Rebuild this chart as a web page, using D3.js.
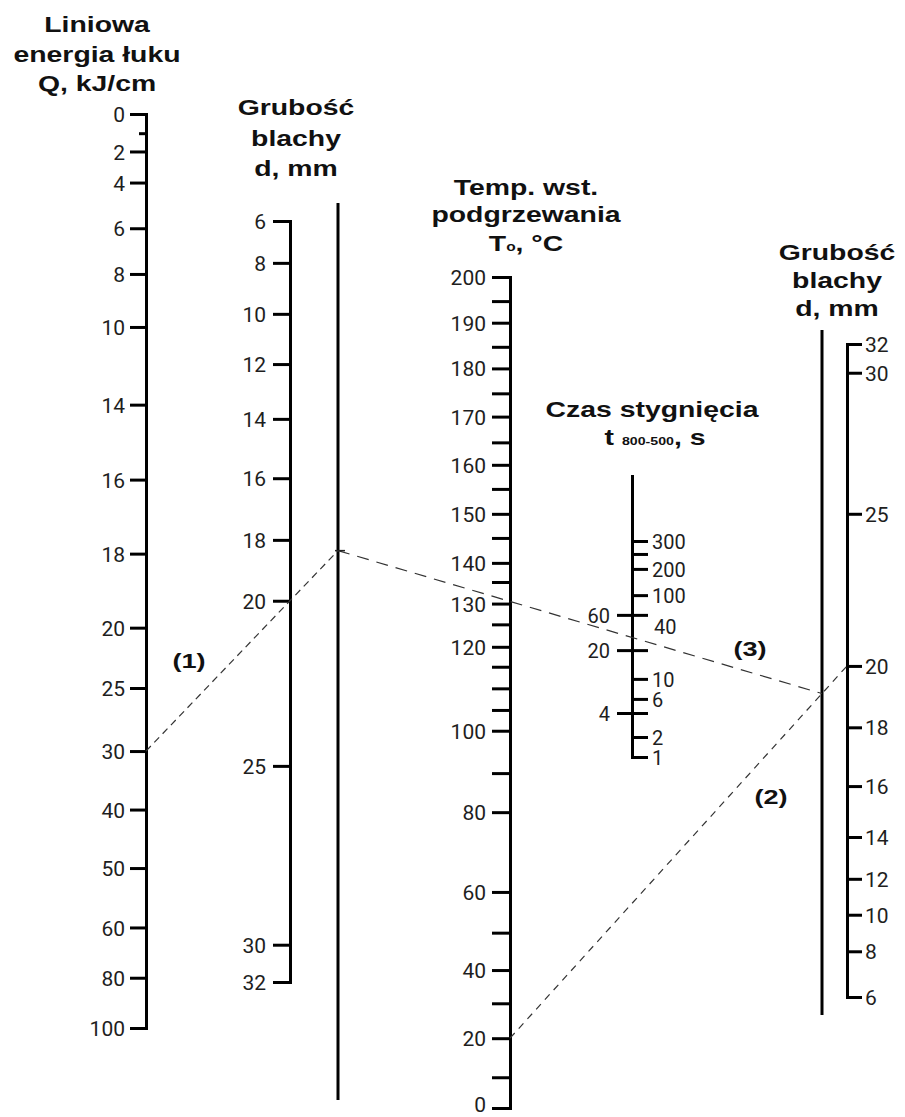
<!DOCTYPE html>
<html>
<head>
<meta charset="utf-8">
<script src="https://cdn.jsdelivr.net/npm/d3@7"></script>
<style>
  body { margin: 0; background: #fff; }
</style>
</head>
<body>
<svg id="chart" width="905" height="1117"></svg>
<script>
// scale calibration: tick values and their relative place along each axis (0 = top end, 1 = bottom end)
const qTicks = [0, 1, 2, 4, 6, 8, 10, 14, 16, 18, 20, 25, 30, 40, 50, 60, 80, 100]
const qStops = [0, .021, .041, .075, .125, .175, .233, .318, .400, .481, .562, .628, .697, .761, .825, .890, .945, 1]
const qMinor = [1]

const dTicks = [6, 8, 10, 12, 14, 16, 18, 20, 25, 30, 32]
const dLeftStops = [0, .055, .122, .188, .260, .338, .419, .499, .716, .951, 1]
const dRightStops = [1, .930, .874, .819, .755, .677, .587, .493, .260, .044, 0]

const tempTicks = [200, 195, 190, 185, 180, 175, 170, 165, 160, 155, 150, 145, 140, 135, 130, 125, 120, 115, 110, 105, 100, 90, 80, 60, 50, 40, 30, 20, 10, 0]
const tempStops = [0, .029, .055, .084, .110, .140, .168, .199, .226, .255, .285, .314, .344, .367, .393, .418, .445, .469, .495, .521, .546, .597, .644, .740, .789, .834, .874, .916, .963, 1]
const tempLabels = [200, 190, 180, 170, 160, 150, 140, 130, 120, 100, 80, 60, 40, 20, 0]

const timeRightValues = [300, 250, 200, 100, 40, 10, 6, 2, 1]
const timeRightStops = [.234, .280, .333, .426, .539, .723, .794, .929, 1]
const timeRightTicks = [300, 250, 200, 100, 10, 6, 2, 1]
const timeRightLabels = [300, 200, 100, 40, 10, 6, 2, 1]
const timeLeftTicks = [60, 20, 4]
const timeLeftStops = [.496, .621, .844]

// worked example drawn with dashed lines
const exampleQ = 30, exampleD1 = 20, exampleT = 20, exampleD2 = 20

// layout
const qX = 146, qTop = 114, qBottom = 1028
const dLX = 290, dLTop = 221, dLBottom = 982
const tempX = 510, tempTop = 277, tempBottom = 1108
const timeX = 632, timeTop = 475, timeBottom = 757
const dRX = 847, dRTop = 344, dRBottom = 997
const refL = {x: 338, y1: 203, y2: 1100}
const refR = {x: 822, y1: 330, y2: 1015}

const labelFont = "Roboto, 'Open Sans', sans-serif"
const titleFont = "'Liberation Sans', Arial, sans-serif"

const calib = (values, stops, y0, y1) => d3.scaleLinear()
  .domain(values)
  .range(stops.map(s => y0 + s * (y1 - y0)))

const qScale = calib(qTicks, qStops, qTop, qBottom)
const dLScale = calib(dTicks, dLeftStops, dLTop, dLBottom)
const dRScale = calib(dTicks, dRightStops, dRTop, dRBottom)
const tempScale = calib(tempTicks, tempStops, tempTop, tempBottom)
const timeRScale = calib(timeRightValues, timeRightStops, timeTop, timeBottom)
const timeLScale = calib(timeLeftTicks, timeLeftStops, timeTop, timeBottom)

const svg = d3.select("#chart")

const styleAxis = (g, size = 21) => {
  g.attr("color", "#000").attr("font-family", labelFont).attr("font-size", size)
  g.selectAll("path, line").attr("stroke-width", 3)
  g.selectAll("text").attr("fill", "#1e1e1e").attr("dy", "0.36em")
}

// Q axis
const qAxis = svg.append("g").attr("transform", `translate(${qX},0)`)
  .call(d3.axisLeft(qScale).tickValues(qTicks.filter(v => !qMinor.includes(v))).tickSize(16).tickPadding(5))
  .call(styleAxis)
qAxis.selectAll(".minor").data(qMinor).enter().append("line")
  .attr("x1", -7).attr("x2", 0)
  .attr("y1", d => qScale(d) + 0.5).attr("y2", d => qScale(d) + 0.5)
  .attr("stroke", "#000").attr("stroke-width", 3)

// left thickness axis
svg.append("g").attr("transform", `translate(${dLX},0)`)
  .call(d3.axisLeft(dLScale).tickValues(dTicks).tickSize(17).tickPadding(7))
  .call(styleAxis)

// preheat temperature axis
const tempAxis = svg.append("g").attr("transform", `translate(${tempX},0)`)
  .call(d3.axisLeft(tempScale).tickValues(tempTicks).tickSize(18).tickPadding(6)
    .tickFormat(d => tempLabels.includes(d) ? d : ""))
  .call(styleAxis)
// bottom label sits a little above its tick so it stays inside the page
tempAxis.selectAll(".tick").filter(d => d === 0).select("text").attr("dy", "0.18em")

// cooling time axis (two scales on one line)
const timeAxis = svg.append("g").attr("transform", `translate(${timeX},0)`)
  .call(d3.axisRight(timeRScale).tickValues(timeRightTicks).tickSize(16).tickPadding(4)
    .tickFormat(d => timeRightLabels.includes(d) ? d : ""))
  .call(g => styleAxis(g, 20))
timeAxis.select(".domain").remove()
timeAxis.append("line")
  .attr("x1", 0.5).attr("x2", 0.5).attr("y1", timeTop).attr("y2", timeBottom + 2)
  .attr("stroke", "#000").attr("stroke-width", 3)
timeAxis.selectAll(".extra").data(timeRightLabels.filter(v => !timeRightTicks.includes(v))).enter().append("text")
  .attr("x", 22).attr("y", d => timeRScale(d)).attr("dy", "0.36em")
  .attr("fill", "#1e1e1e").text(d => d)
const leftT = timeAxis.selectAll(".lt").data(timeLeftTicks).enter().append("g")
  .attr("transform", d => `translate(0,${timeLScale(d) + 0.5})`)
leftT.append("line").attr("x1", -15).attr("x2", 16).attr("stroke", "#000").attr("stroke-width", 3)
leftT.append("text").attr("x", -22).attr("dy", "0.36em").attr("text-anchor", "end")
  .attr("fill", "#1e1e1e").text(d => d)

// right thickness axis
svg.append("g").attr("transform", `translate(${dRX},0)`)
  .call(d3.axisRight(dRScale).tickValues(dTicks).tickSize(15).tickPadding(3))
  .call(styleAxis)

// reference (turning) lines
;[refL, refR].forEach(r => svg.append("line")
  .attr("x1", r.x).attr("x2", r.x).attr("y1", r.y1).attr("y2", r.y2)
  .attr("stroke", "#000").attr("stroke-width", 3))

// example construction
const p1 = [qX, qScale(exampleQ)], p2 = [dLX, dLScale(exampleD1)]
const yA = p1[1] + (p2[1] - p1[1]) * (refL.x - p1[0]) / (p2[0] - p1[0])
const p3 = [tempX, tempScale(exampleT)], p4 = [dRX, dRScale(exampleD2)]
const yB = p3[1] + (p4[1] - p3[1]) * (refR.x - p3[0]) / (p4[0] - p3[0])

const dashed = [
  {a: p1, b: [refL.x, yA], dash: "7,5"},
  {a: p3, b: p4, dash: "7,6"},
  {a: [refL.x, yA], b: [refR.x, yB], dash: "12,8"}
]
svg.selectAll(".ex").data(dashed).enter().append("line")
  .attr("x1", d => d.a[0]).attr("y1", d => d.a[1]).attr("x2", d => d.b[0]).attr("y2", d => d.b[1])
  .attr("stroke", "#333").attr("stroke-width", 1.2).attr("stroke-dasharray", d => d.dash)
svg.append("line").attr("x1", refL.x - 3).attr("x2", refL.x + 7).attr("y1", yA).attr("y2", yA)
  .attr("stroke", "#222").attr("stroke-width", 1.5)

// titles
const title = (cx, y, size = 22) => svg.append("text")
  .attr("transform", `translate(${cx},${y}) scale(1.29,1)`)
  .attr("text-anchor", "middle").attr("font-family", titleFont).attr("font-weight", "bold")
  .attr("font-size", size).attr("fill", "#111")

title(97, 32).text("Liniowa")
title(97, 62).text("energia łuku")
title(97, 91).text("Q, kJ/cm")

title(296, 115).text("Grubość")
title(296, 146).text("blachy")
title(296, 176).text("d, mm")

title(526, 195).text("Temp. wst.")
title(526, 222).text("podgrzewania")
const tTitle = title(526, 251)
tTitle.append("tspan").text("T")
tTitle.append("tspan").attr("font-size", 12).text("o")
tTitle.append("tspan").text(", °C")

title(652, 417).text("Czas stygnięcia")
const cTitle = title(655, 445)
cTitle.append("tspan").text("t ")
cTitle.append("tspan").attr("font-size", 11).text("800-500")
cTitle.append("tspan").text(", s")

title(837, 260).text("Grubość")
title(837, 288).text("blachy")
title(837, 316).text("d, mm")

// construction step labels
title(189, 668, 21).text("(1)")
title(771, 804, 21).text("(2)")
title(750, 656, 21).text("(3)")
</script>
</body>
</html>
